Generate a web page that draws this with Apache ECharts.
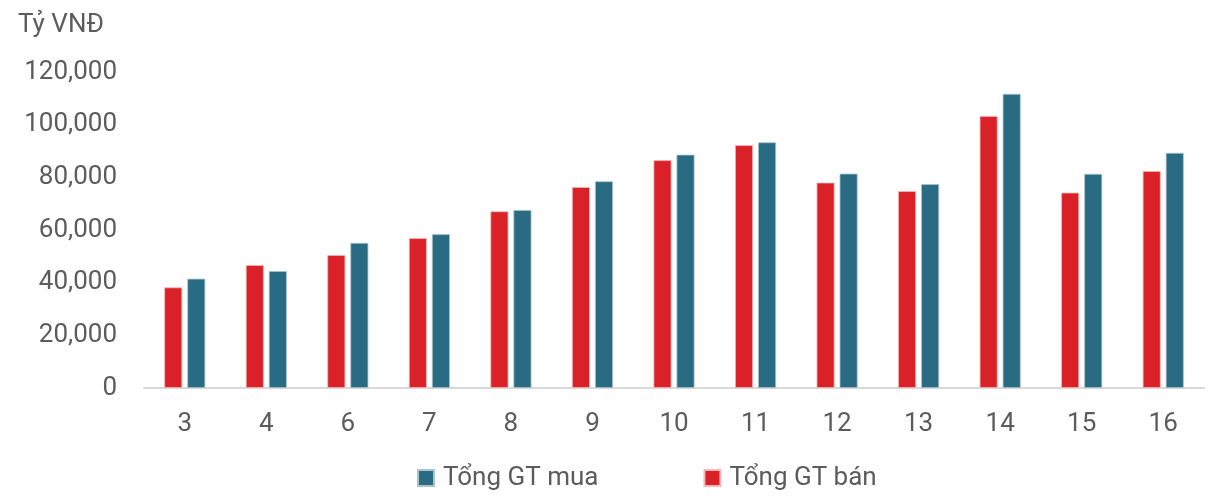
<!DOCTYPE html>
<html>
<head>
<meta charset="utf-8">
<script src="https://cdn.jsdelivr.net/npm/echarts@6/dist/echarts.min.js"></script>
<style>
  html, body { margin: 0; padding: 0; background: #fff; }
  #main { width: 1216px; height: 497px; }
</style>
</head>
<body>
<div id="main"></div>
<script>
const categories = ['3', '4', '6', '7', '8', '9', '10', '11', '12', '13', '14', '15', '16'];
const banValues = [38200, 46700, 50500, 56900, 67100, 76300, 86500, 92200, 78000, 74800, 103300, 74200, 82400];
const muaValues = [41500, 44400, 55100, 58400, 67600, 78500, 88600, 93300, 81400, 77400, 111700, 81300, 89300];
const yTicks = [0, 20000, 40000, 60000, 80000, 100000, 120000];

const fontName = 'Roboto, "Noto Sans", sans-serif';
const textColor = '#5c5c5c';

let chart = echarts.init(document.getElementById('main'), null, { renderer: 'canvas' });

let option = {
  animation: false,
  textStyle: { fontFamily: fontName },
  graphic: [
    {
      type: 'text',
      left: 18,
      top: 12,
      style: { text: 'Tỷ VNĐ', fill: textColor, fontSize: 26, fontFamily: fontName }
    }
  ],
  legend: {
    data: ['Tổng GT mua', 'Tổng GT bán'],
    left: 412,
    top: 460,
    icon: 'rect',
    itemWidth: 16,
    itemHeight: 16,
    itemGap: 105,
    textStyle: { color: textColor, fontSize: 26, fontFamily: fontName, padding: [0, 0, 0, 4] }
  },
  grid: { left: 144, right: 12, top: 72, bottom: 109 },
  xAxis: {
    type: 'category',
    data: categories,
    axisLine: { lineStyle: { color: '#d9d9d9', width: 2 } },
    axisTick: { show: false },
    axisLabel: { color: textColor, fontSize: 26, margin: 23, fontFamily: fontName }
  },
  yAxis: {
    type: 'value',
    min: yTicks[0],
    max: yTicks[yTicks.length - 1],
    interval: 20000,
    splitLine: { show: false },
    axisLine: { show: false },
    axisTick: { show: false },
    axisLabel: {
      color: textColor,
      fontSize: 26,
      margin: 27,
      fontFamily: fontName,
      formatter: function (v) { return v.toLocaleString('en-US'); }
    }
  },
  series: [
    {
      name: 'Tổng GT bán',
      type: 'bar',
      data: banValues,
      barWidth: 18,
      barGap: '28%',
      itemStyle: { color: '#da2128', borderColor: '#f2b8bb', borderWidth: 0.8 }
    },
    {
      name: 'Tổng GT mua',
      type: 'bar',
      data: muaValues,
      barWidth: 18,
      barGap: '28%',
      itemStyle: { color: '#286b83', borderColor: '#a9c3cd', borderWidth: 0.8 }
    }
  ]
};

chart.setOption(option);
</script>
</body>
</html>
